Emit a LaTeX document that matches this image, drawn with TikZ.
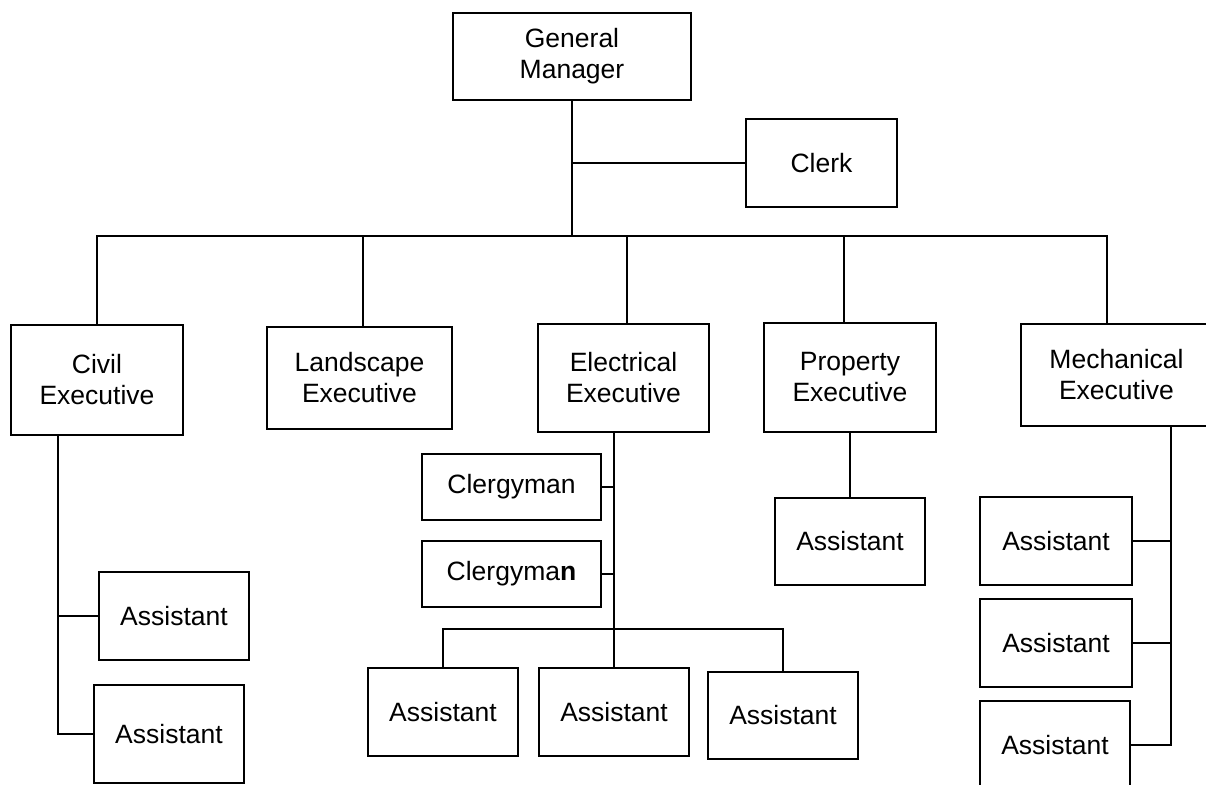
\documentclass[tikz,border=0pt]{standalone}
\usepackage{fontspec}
\setmainfont{Liberation Sans}

\begin{document}
\begin{tikzpicture}[x=1pt, y=-1pt, line width=1.8pt,
	caja/.style={draw, line width=1.8pt, align=center, inner sep=0pt, font=\fontsize{26.5}{31}\selectfont},
	asist/.style={caja, minimum width=150pt, minimum height=88pt}]

	\useasboundingbox (0,0) rectangle (1206,784);

	% Gerente y secretario
	\node[caja, minimum width=238pt, minimum height=87pt] (gm) at (572,56.5) {General\\Manager};
	\node[caja, minimum width=151pt, minimum height=88pt] (clerk) at (821.5,163) {Clerk};

	% Ejecutivos
	\node[caja, minimum width=172pt, minimum height=110pt] (civil) at (97,380) {Civil\\Executive};
	\node[caja, minimum width=185pt, minimum height=102pt] (land) at (359.5,378) {Landscape\\Executive};
	\node[caja, minimum width=171pt, minimum height=108pt] (elec) at (623.5,378) {Electrical\\Executive};
	\node[caja, minimum width=172pt, minimum height=109pt] (prop) at (850,377.5) {Property\\Executive};
	\node[caja, minimum width=191pt, minimum height=102pt] (mech) at (1116.5,375) {Mechanical\\Executive};

	% Subordinados
	\node[caja, minimum width=179pt, minimum height=66pt] (cler1) at (511.5,487) {Clergyman};
	\node[caja, minimum width=179pt, minimum height=66pt] (cler2) at (511.5,574) {Clergyma\textbf{n}};
	\node[asist] (ea1) at (443,712) {Assistant};
	\node[asist] (ea2) at (614,712) {Assistant};
	\node[asist, minimum height=87pt] (ea3) at (783,715.5) {Assistant};
	\node[asist, minimum height=87pt] (pa) at (850,541.5) {Assistant};
	\node[asist] (ca1) at (174,616) {Assistant};
	\node[asist, minimum height=98pt] (ca2) at (169,734) {Assistant};
	\node[asist, minimum width=152pt] (ma1) at (1056,541) {Assistant};
	\node[asist, minimum width=152pt] (ma2) at (1056,643) {Assistant};
	\node[asist] (ma3) at (1055,745) {Assistant};

	% Lineas superiores
	\coordinate (bus) at (572,236);
	\draw (gm.south) -- (bus);
	\draw (gm.south |- clerk.west) -- (clerk.west);
	\draw (civil.north) |- (bus);
	\foreach \n/\d in {land/3.5, elec/3.5, prop/-6, mech/-9.5} {
		\draw ([xshift=\d pt]\n.north) |- (bus);
	}

	% Rama electrica
	\coordinate (ebus) at (614,629);
	\draw ([xshift=-9.5pt]elec.south) -- (ebus);
	\draw (cler1.east) -- (cler1.east -| ebus);
	\draw (cler2.east) -- (cler2.east -| ebus);
	\foreach \n in {ea1, ea2, ea3} {
		\draw (\n.north) |- (ebus);
	}

	% Ramas civil, propiedad y mecanica
	\draw ([xshift=-39pt]civil.south) |- (ca2.west);
	\draw (ca1.west) -| ([xshift=-39pt]civil.south);
	\draw (prop.south) -- (pa.north);
	\draw ([xshift=54.5pt]mech.south) |- (ma3.east);
	\foreach \n in {ma1, ma2} {
		\draw (\n.east) -| ([xshift=54.5pt]mech.south);
	}

\end{tikzpicture}
\end{document}
